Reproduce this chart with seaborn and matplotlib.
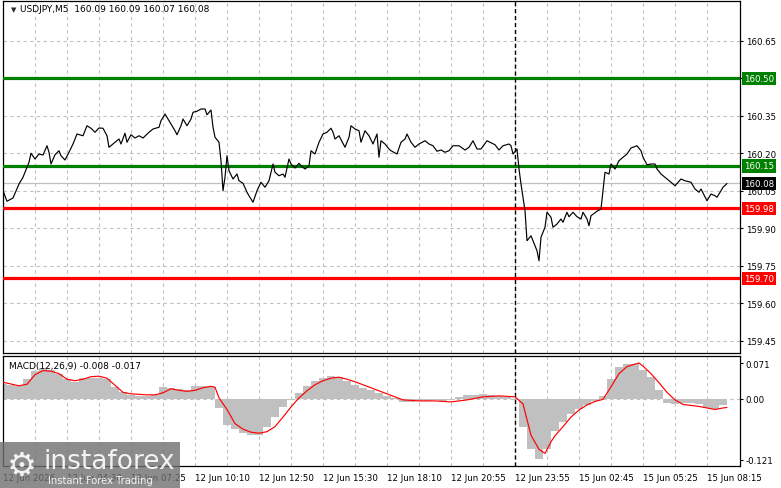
import matplotlib
matplotlib.use("Agg")
import matplotlib.pyplot as plt
import matplotlib.patches as mpatches
import matplotlib.transforms as mtransforms
import seaborn as sns
import numpy as np
import pandas as pd

# ---------------- data ----------------
price_bar = [0, 2, 5, 8, 10, 13, 14, 16, 18, 20, 22, 23, 24, 26, 28, 29, 31, 33, 35, 37,
             40, 42, 44, 46, 48, 50, 52, 53, 55, 58, 59, 61, 62, 64, 66, 68, 70, 73, 75, 78,
             79, 81, 83, 84, 86, 87, 89, 90, 92, 94, 95, 97, 99, 101, 102, 104, 105, 106, 108, 109,
             110, 111, 112, 113, 115, 117, 118, 120, 122, 123,
             125, 127, 129, 131, 133, 135, 136, 138, 140, 141, 143, 144, 146, 148, 149, 151, 153, 154,
             156, 158, 160, 162, 164, 165, 166, 168, 171, 173, 174, 176, 178, 179, 181, 183, 185, 187,
             188, 189, 191, 193, 194, 197, 199, 201, 202, 204, 206, 208, 211, 213, 215, 217, 219, 221,
             223, 225, 228, 231, 233, 235, 237, 239, 242, 246,
             248, 250, 253, 254, 255, 257, 258, 259, 261, 262, 264, 265, 267, 268, 269, 271, 272, 274,
             275, 277, 279, 280, 282, 283, 285, 287, 289, 290, 292, 293, 294, 297, 299, 301, 303, 304,
             306, 308, 309, 312, 314, 317, 319, 320, 322, 324, 326, 327, 329, 331, 334, 336, 339, 341,
             344, 346, 348, 349, 352, 354, 356, 357, 359, 360, 362]
price_val = [160.051, 160.009, 160.022, 160.078, 160.105, 160.165, 160.201, 160.178, 160.198, 160.194,
             160.231, 160.205, 160.158, 160.195, 160.211, 160.191, 160.174, 160.205, 160.238, 160.278,
             160.271, 160.311, 160.301, 160.285, 160.302, 160.301, 160.271, 160.225, 160.238, 160.258,
             160.238, 160.281, 160.245, 160.275, 160.262, 160.271, 160.262, 160.285, 160.298, 160.305,
             160.331, 160.358, 160.331, 160.318, 160.291, 160.275, 160.311, 160.338, 160.311, 160.338,
             160.365, 160.369, 160.378, 160.378, 160.355, 160.374, 160.305, 160.265, 160.245, 160.171,
             160.051, 160.105, 160.191, 160.131, 160.098, 160.118, 160.091, 160.081, 160.045, 160.031,
             160.005, 160.051, 160.085, 160.065, 160.091, 160.158, 160.125, 160.111, 160.118, 160.105,
             160.178, 160.158, 160.142, 160.161, 160.151, 160.138, 160.151, 160.211,
             160.198, 160.245, 160.278, 160.285, 160.301, 160.285, 160.258, 160.271, 160.225, 160.265,
             160.311, 160.298, 160.291, 160.245, 160.291, 160.271, 160.238, 160.278,
             160.185, 160.251, 160.238, 160.218, 160.211, 160.198, 160.245, 160.258, 160.278, 160.245,
             160.225, 160.238, 160.251, 160.238, 160.231, 160.209, 160.214, 160.205,
             160.211, 160.231, 160.231, 160.214, 160.225, 160.251, 160.218, 160.218, 160.251, 160.235,
             160.214, 160.231, 160.238, 160.231, 160.198, 160.218, 160.138, 160.078, 159.971, 159.851,
             159.871, 159.851, 159.811, 159.771, 159.865, 159.905, 159.965, 159.945,
             159.905, 159.918, 159.938, 159.925, 159.965, 159.947, 159.965, 159.947, 159.938, 159.965,
             159.938, 159.911, 159.951, 159.969, 159.978, 160.125, 160.118, 160.158,
             160.138, 160.171, 160.178, 160.198, 160.222, 160.231, 160.211, 160.185, 160.155, 160.158,
             160.158, 160.138, 160.118, 160.105, 160.085, 160.071, 160.098, 160.091,
             160.085, 160.058, 160.045, 160.058, 160.011, 160.038, 160.031, 160.025, 160.051, 160.065, 160.08]

hist_bar = list(range(0, 364, 4))
hist_val = [0.030, 0.028, 0.026, 0.040, 0.055, 0.061, 0.058, 0.050, 0.040, 0.034,
            0.041, 0.042, 0.042, 0.040, 0.024, 0.013, 0.008, 0.006, 0.006, 0.007,
            0.024, 0.022, 0.020, 0.018, 0.025, 0.026, 0.024, -0.018, -0.052, -0.060,
            -0.067, -0.072, -0.071, -0.055, -0.036, -0.016, -0.002, 0.012, 0.026, 0.036,
            0.041, 0.045, 0.044, 0.036, 0.028, 0.022, 0.018, 0.012, 0.006, 0.001,
            -0.006, -0.006, -0.004, -0.004, -0.002, -0.005, -0.003, 0.004, 0.008, 0.008,
            0.010, 0.008, 0.006, 0.004, -0.002, -0.055, -0.099, -0.120, -0.099, -0.063,
            -0.045, -0.030, -0.020, -0.012, -0.004, 0.005, 0.040, 0.064, 0.069, 0.070,
            0.058, 0.044, 0.018, -0.008, -0.010, -0.008, -0.008, -0.010, -0.019, -0.020,
            -0.012]

signal_bar = [0, 8, 12, 16, 20, 24, 28, 32, 36, 40, 44, 48, 52, 56, 60, 64, 68, 72, 76, 80,
              84, 88, 92, 96, 100, 104, 106, 108, 112, 116, 120, 124, 128, 132, 136, 140, 144, 148,
              152, 156, 160, 164, 168, 172, 176, 180, 184, 188, 192, 196, 200, 208, 216, 224, 232,
              240, 248, 256, 260, 264, 268, 271, 274, 276, 280, 284, 288, 292, 296, 300, 304, 308,
              312, 316, 318, 320, 324, 328, 332, 336, 340, 344, 348, 352, 356, 360, 362]
signal_val = [0.033, 0.026, 0.029, 0.048, 0.056, 0.055, 0.050, 0.039, 0.036, 0.039,
              0.044, 0.045, 0.041, 0.027, 0.013, 0.010, 0.009, 0.008, 0.008, 0.012,
              0.020, 0.017, 0.015, 0.017, 0.022, 0.025, 0.023, 0.002, -0.021, -0.049,
              -0.060, -0.066, -0.068, -0.065, -0.055, -0.036, -0.016, 0.002,
              0.016, 0.028, 0.036, 0.041, 0.043, 0.039, 0.034, 0.028, 0.022, 0.016, 0.010, 0.004,
              -0.002, -0.004, -0.004, -0.006, -0.002, 0.004, 0.006, 0.004, -0.010, -0.072,
              -0.100, -0.108, -0.085, -0.073, -0.055, -0.036, -0.022, -0.012, -0.005, -0.001,
              0.024, 0.050, 0.064, 0.069, 0.071, 0.065, 0.050, 0.032, 0.013, -0.002, -0.011,
              -0.013, -0.015, -0.018, -0.021, -0.018, -0.017]

x_tick_bars = list(range(0, 353, 32))
x_tick_labels = ["12 Jun 2026", "12 Jun 04:30", "12 Jun 07:25", "12 Jun 10:10", "12 Jun 12:50",
                 "12 Jun 15:30", "12 Jun 18:10", "12 Jun 20:55", "12 Jun 23:55", "15 Jun 02:45",
                 "15 Jun 05:25", "15 Jun 08:15"]
price_ticks = [159.45, 159.60, 159.75, 159.90, 160.05, 160.20, 160.35, 160.50, 160.65]
green_levels = [160.50, 160.15]
red_levels = [159.98, 159.70]
last_price = 160.08
macd_ticks = [-0.121, 0.0, 0.071]
macd_tick_labels = ["-0.121", "0.00", "0.071"]
separator_bar = 256

# ---------------- figure ----------------
sns.set_style("white")
plt.rcParams['font.family'] = ['DejaVu Sans']
W, H = 781, 489
fig = plt.figure(figsize=(W / 100, H / 100), dpi=100)
fig.patch.set_facecolor("white")


def frac(x0, y0, x1, y1):
    return [x0 / W, 1 - y1 / H, (x1 - x0) / W, (y1 - y0) / H]


ax = fig.add_axes(frac(3, 2, 740, 354))
axm = fig.add_axes(frac(3, 357, 740, 467))

GRID = "#c0c0c0"
FS = 6.2
xlim = (0, 368.5)

for a in (ax, axm):
    a.set_xlim(*xlim)
    a.set_facecolor("white")
    for s in a.spines.values():
        s.set_color("black")
        s.set_linewidth(0.9)
    a.set_xticks(x_tick_bars)
    a.set_xticks([b + 16 for b in x_tick_bars if b + 16 < xlim[1] - 2], minor=True)
    a.grid(True, which="both", axis="x", color=GRID, linestyle=(0, (3, 3)), linewidth=0.8)
    a.yaxis.tick_right()
    a.tick_params(axis="y", which="both", length=2, labelsize=FS, pad=2, colors="black")
    a.tick_params(axis="x", which="minor", length=0)
    a.set_axisbelow(True)
    a.axvline(separator_bar, color="black", linestyle=(0, (3, 2)), linewidth=1.0, zorder=4)

# ---- main price panel ----
ax.set_ylim(159.402, 160.81)
ax.set_yticks(price_ticks)
# the 160.50 label sits under the green level box, as in the reference
ax.set_yticklabels(["" if abs(v - 160.50) < 1e-9 else f"{v:.2f}" for v in price_ticks])
ax.grid(True, which="major", axis="y", color=GRID, linestyle=(0, (3, 3)), linewidth=0.8)
ax.tick_params(axis="x", which="both", length=0, labelbottom=False)

ax.axhline(last_price, color="#c0c0c0", linewidth=0.9, zorder=2)
for lv in green_levels:
    ax.axhline(lv, color="#008000", linewidth=2.3, zorder=3)
for lv in red_levels:
    ax.axhline(lv, color="#ff0000", linewidth=2.3, zorder=3)

df_price = pd.DataFrame({"bar": price_bar, "price": price_val})
sns.lineplot(data=df_price, x="bar", y="price", ax=ax, color="black", linewidth=0.85,
             estimator=None, sort=False, zorder=5)
ax.set_xlabel("")
ax.set_ylabel("")


def level_box(axis, value, fc, text=None):
    t = mtransforms.blended_transform_factory(axis.transAxes, axis.transData)
    axis.text(1.0 + 4 / 737, value, text if text else f"{value:.2f}", transform=t,
              ha="left", va="center", fontsize=FS, color="white", clip_on=False, zorder=10,
              bbox=dict(boxstyle="square,pad=0.25", fc=fc, ec="none"))


for lv in green_levels:
    level_box(ax, lv, "#008000")
for lv in red_levels:
    level_box(ax, lv, "#ff0000")
level_box(ax, last_price, "black")

ax.text(8 / 737, 1 - 8 / 352, "\u25BC", transform=ax.transAxes, fontsize=5, ha="left", va="center")
ax.text(17 / 737, 1 - 8 / 352, "USDJPY,M5  160.09 160.09 160.07 160.08", transform=ax.transAxes,
        fontsize=FS + 0.3, ha="left", va="center", color="black")

# ---- MACD panel ----
axm.set_ylim(-0.133, 0.085)
axm.set_yticks(macd_ticks)
axm.set_yticklabels(macd_tick_labels)
axm.axhline(0, color=GRID, linestyle=(0, (3, 3)), linewidth=0.8, zorder=1)
axm.bar(hist_bar, hist_val, width=4.0, color="#c0c0c0", linewidth=0, align="center", zorder=2)
df_sig = pd.DataFrame({"bar": signal_bar, "signal": signal_val})
sns.lineplot(data=df_sig, x="bar", y="signal", ax=axm, color="#ff0000", linewidth=0.85,
             estimator=None, sort=False, zorder=5)
axm.set_xlabel("")
axm.set_ylabel("")
axm.set_xticklabels(x_tick_labels)
axm.tick_params(axis="x", which="major", length=3, labelsize=FS, pad=2, colors="black")
for lbl in axm.get_xticklabels():
    lbl.set_horizontalalignment("left")
axm.text(6 / 737, 1 - 9 / 110, "MACD(12,26,9) -0.008 -0.017", transform=axm.transAxes,
         fontsize=FS + 0.3, ha="left", va="center", color="black", zorder=10)

# ---- watermark ----
fig.patches.append(mpatches.Rectangle((0, 0), 180 / W, 46 / H, transform=fig.transFigure,
                                      facecolor="#707070", alpha=0.8, edgecolor="none", zorder=20))
fig.text(22 / W, 1 - 466 / H, "\u2699", fontsize=24, color="white", ha="center", va="center",
         zorder=21, alpha=0.9)
fig.text(44 / W, 1 - 462 / H, "instaforex", fontsize=19, color="white", ha="left", va="center",
         zorder=21, alpha=0.9)
fig.text(48 / W, 1 - 481 / H, "Instant Forex Trading", fontsize=7.2, color="white", ha="left",
         va="center", zorder=21, alpha=0.9)

fig.savefig("out.png", dpi=100)
